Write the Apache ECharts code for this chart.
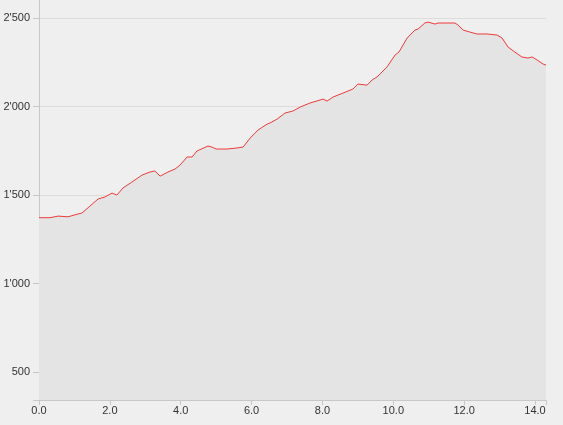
<!DOCTYPE html>
<html>
<head>
<meta charset="utf-8">
<script src="https://cdn.jsdelivr.net/npm/echarts@6/dist/echarts.min.js"></script>
<style>
  html, body { margin: 0; padding: 0; background: #efefef; }
  #chart { width: 563px; height: 425px; }
</style>
</head>
<body>
<div id="chart"></div>
<script>
// distance (km) and elevation (m)
const distances = [0, 0.31, 0.54, 0.82, 1.10, 1.21, 1.44, 1.67, 1.86, 2.06, 2.20, 2.37, 2.62, 2.91, 2.96,
  3.13, 3.27, 3.42, 3.64, 3.84, 3.98, 4.18, 4.32, 4.46, 4.77, 4.88, 5.00, 5.31, 5.59, 5.76, 5.96,
  6.18, 6.44, 6.52, 6.72, 6.94, 7.17, 7.37, 7.65, 8.02, 8.13, 8.30, 8.58, 8.86, 9.00, 9.26, 9.40,
  9.54, 9.82, 10.05, 10.16, 10.39, 10.61, 10.70, 10.89, 10.98, 11.18, 11.26, 11.74, 11.83, 11.97,
  12.16, 12.36, 12.64, 12.93, 13.07, 13.24, 13.43, 13.63, 13.80, 13.92, 14.06, 14.23, 14.31];
const elevations = [1372, 1372, 1381, 1377, 1393, 1398, 1438, 1478, 1489, 1511, 1500, 1540, 1573, 1613, 1602,
  1630, 1636, 1607, 1630, 1647, 1669, 1715, 1715, 1749, 1777, 1771, 1760, 1760, 1766, 1771, 1822,
  1867, 1901, 1907, 1929, 1963, 1975, 1997, 2020, 2042, 2031, 2054, 2076, 2099, 2127, 2121, 2150,
  2167, 2223, 2291, 2308, 2387, 2432, 2438, 2472, 2477, 2466, 2472, 2472, 2460, 2432,
  2421, 2410, 2410, 2404, 2387, 2336, 2308, 2280, 2274, 2280, 2263, 2240, 2234];
const xTicks = [0, 2, 4, 6, 8, 10, 12, 14];
const yTicks = [500, 1000, 1500, 2000, 2500];

const chart = echarts.init(document.getElementById('chart'));

function thousands(v) {
  return String(v).replace(/\B(?=(\d{3})+(?!\d))/g, "'");
}

const option = {
  backgroundColor: '#efefef',
  animation: false,
  grid: { left: 39, right: 17, top: 0, bottom: 25 },
  xAxis: {
    type: 'value',
    min: 0,
    max: 14.31,
    interval: 2,
    axisLine: { lineStyle: { color: '#c8c8c8', width: 1 } },
    axisTick: { length: 5, lineStyle: { color: '#c8c8c8' } },
    splitLine: { show: false },
    axisLabel: {
      customValues: xTicks,
      formatter: (v) => v.toFixed(1),
      color: '#333',
      fontSize: 11,
      fontFamily: 'Liberation Sans, Arial, sans-serif',
      margin: 5
    }
  },
  yAxis: {
    type: 'value',
    min: 342,
    max: 2602,
    axisLine: { show: true, lineStyle: { color: '#c8c8c8', width: 1 } },
    axisTick: { show: true, length: 6, customValues: [342].concat(yTicks), lineStyle: { color: '#c8c8c8' } },
    splitLine: { lineStyle: { color: '#dcdcdc', width: 1 } },
    axisLabel: {
      customValues: yTicks,
      formatter: thousands,
      color: '#333',
      fontSize: 11,
      fontFamily: 'Liberation Sans, Arial, sans-serif',
      margin: 9
    }
  },
  series: [
    {
      type: 'line',
      symbol: 'none',
      smooth: false,
      lineStyle: { color: '#ee3b3b', width: 1 },
      areaStyle: { color: '#e4e4e4', opacity: 1 },
      data: distances.map((d, i) => [d, elevations[i]])
    }
  ]
};
chart.setOption(option);
</script>
</body>
</html>
